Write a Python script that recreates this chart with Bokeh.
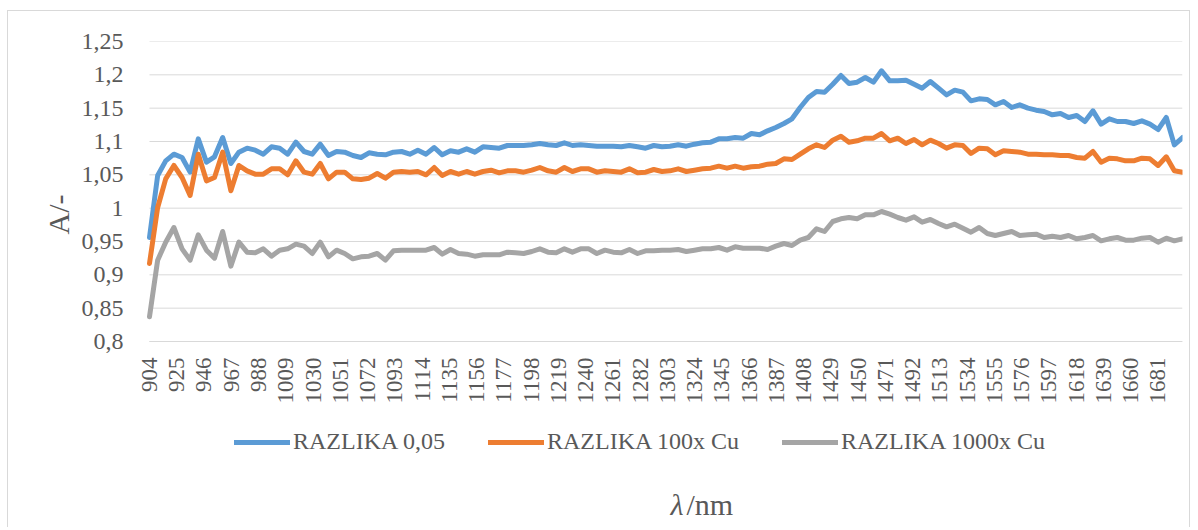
import math
from bokeh.plotting import figure
from bokeh.models import (Range1d, FixedTicker, Legend, LegendItem, Title, Label)
from bokeh.embed import file_html
from bokeh.resources import INLINE

wavelength = [
    904.0, 910.3, 916.5, 922.8, 929.1, 935.3, 941.6, 947.9, 954.1, 960.4,
    966.7, 972.9, 979.2, 985.5, 991.7, 998.0, 1004.3, 1010.5, 1016.8, 1023.1,
    1029.4, 1035.6, 1041.9, 1048.2, 1054.4, 1060.7, 1067.0, 1073.2, 1079.5, 1085.8,
    1092.0, 1098.3, 1104.6, 1110.8, 1117.1, 1123.4, 1129.6, 1135.9, 1142.2, 1148.4,
    1154.7, 1161.0, 1167.2, 1173.5, 1179.8, 1186.0, 1192.3, 1198.6, 1204.8, 1211.1,
    1217.4, 1223.7, 1229.9, 1236.2, 1242.5, 1248.7, 1255.0, 1261.3, 1267.5, 1273.8,
    1280.1, 1286.3, 1292.6, 1298.9, 1305.1, 1311.4, 1317.7, 1323.9, 1330.2, 1336.5,
    1342.7, 1349.0, 1355.3, 1361.5, 1367.8, 1374.1, 1380.3, 1386.6, 1392.9, 1399.1,
    1405.4, 1411.7, 1418.0, 1424.2, 1430.5, 1436.8, 1443.0, 1449.3, 1455.6, 1461.8,
    1468.1, 1474.4, 1480.6, 1486.9, 1493.2, 1499.4, 1505.7, 1512.0, 1518.2, 1524.5,
    1530.8, 1537.0, 1543.3, 1549.6, 1555.8, 1562.1, 1568.4, 1574.6, 1580.9, 1587.2,
    1593.4, 1599.7, 1606.0, 1612.2, 1618.5, 1624.8, 1631.0, 1637.3, 1643.6, 1649.8,
    1656.1, 1662.4, 1668.7, 1674.9, 1681.2, 1687.5, 1693.7, 1700.0,
]

razlika_005 = [
    0.956, 1.049, 1.071, 1.081, 1.076, 1.054, 1.104, 1.069, 1.077, 1.106, 1.067, 1.084, 1.090, 1.087, 1.081, 1.092,
    1.090, 1.081, 1.099, 1.085, 1.081, 1.096, 1.079, 1.085, 1.084, 1.079, 1.076, 1.083, 1.081, 1.080, 1.084, 1.085,
    1.081, 1.087, 1.081, 1.091, 1.080, 1.086, 1.084, 1.089, 1.084, 1.092, 1.091, 1.090, 1.094, 1.094, 1.094, 1.095,
    1.097, 1.095, 1.094, 1.098, 1.094, 1.095, 1.094, 1.093, 1.093, 1.093, 1.092, 1.094, 1.092, 1.090, 1.094, 1.092,
    1.093, 1.095, 1.093, 1.096, 1.098, 1.099, 1.104, 1.104, 1.106, 1.105, 1.112, 1.110, 1.116, 1.121, 1.127, 1.134,
    1.151, 1.166, 1.175, 1.174, 1.186, 1.199, 1.187, 1.189, 1.196, 1.189, 1.206, 1.191, 1.191, 1.192, 1.186, 1.180,
    1.190, 1.180, 1.170, 1.177, 1.174, 1.161, 1.164, 1.163, 1.155, 1.160, 1.151, 1.155, 1.150, 1.147, 1.145, 1.140,
    1.142, 1.136, 1.139, 1.130, 1.146, 1.126, 1.134, 1.130, 1.130, 1.127, 1.131, 1.126, 1.118, 1.136, 1.095, 1.106,
]

razlika_100x_cu = [
    0.917, 1.001, 1.044, 1.064, 1.046, 1.019, 1.081, 1.041, 1.046, 1.084, 1.026, 1.064, 1.056, 1.051, 1.051, 1.059,
    1.059, 1.050, 1.071, 1.054, 1.051, 1.067, 1.044, 1.054, 1.054, 1.044, 1.043, 1.045, 1.052, 1.045, 1.054, 1.055,
    1.054, 1.055, 1.050, 1.061, 1.049, 1.055, 1.051, 1.055, 1.051, 1.055, 1.057, 1.053, 1.056, 1.056, 1.054, 1.057,
    1.061, 1.056, 1.054, 1.061, 1.055, 1.059, 1.059, 1.054, 1.056, 1.055, 1.054, 1.059, 1.053, 1.054, 1.058, 1.055,
    1.056, 1.059, 1.055, 1.057, 1.059, 1.060, 1.063, 1.060, 1.063, 1.060, 1.062, 1.063, 1.066, 1.067, 1.074, 1.073,
    1.081, 1.089, 1.095, 1.091, 1.102, 1.108, 1.099, 1.101, 1.105, 1.105, 1.112, 1.101, 1.105, 1.097, 1.103, 1.095,
    1.102, 1.097, 1.090, 1.095, 1.094, 1.082, 1.090, 1.089, 1.080, 1.086, 1.085, 1.084, 1.081, 1.081, 1.080, 1.080,
    1.079, 1.079, 1.076, 1.075, 1.085, 1.069, 1.075, 1.074, 1.071, 1.071, 1.075, 1.074, 1.064, 1.077, 1.056, 1.054,
]

razlika_1000x_cu = [
    0.837, 0.922, 0.949, 0.971, 0.939, 0.922, 0.960, 0.937, 0.925, 0.965, 0.913, 0.949, 0.934, 0.933, 0.939, 0.928,
    0.937, 0.939, 0.946, 0.943, 0.932, 0.949, 0.927, 0.937, 0.932, 0.924, 0.927, 0.928, 0.932, 0.922, 0.936, 0.937,
    0.937, 0.937, 0.937, 0.941, 0.931, 0.938, 0.932, 0.931, 0.928, 0.930, 0.930, 0.930, 0.934, 0.933, 0.932, 0.935,
    0.939, 0.934, 0.933, 0.939, 0.934, 0.939, 0.939, 0.932, 0.937, 0.934, 0.933, 0.938, 0.932, 0.936, 0.936, 0.937,
    0.937, 0.938, 0.935, 0.937, 0.939, 0.939, 0.941, 0.937, 0.942, 0.940, 0.940, 0.940, 0.938, 0.943, 0.947, 0.944,
    0.952, 0.956, 0.969, 0.965, 0.980, 0.984, 0.986, 0.984, 0.990, 0.990, 0.995, 0.991, 0.986, 0.982, 0.987, 0.979,
    0.983, 0.977, 0.972, 0.976, 0.970, 0.964, 0.971, 0.962, 0.959, 0.962, 0.965, 0.959, 0.960, 0.961, 0.956, 0.958,
    0.956, 0.959, 0.954, 0.956, 0.959, 0.951, 0.954, 0.956, 0.952, 0.952, 0.955, 0.956, 0.949, 0.955, 0.951, 0.954,
]

series_names = ["RAZLIKA 0,05", "RAZLIKA 100x Cu", "RAZLIKA 1000x Cu"]
series_colors = ["#5B9BD5", "#ED7D31", "#A5A5A5"]

x_ticks = [904, 925, 946, 967, 988, 1009, 1030, 1051, 1072, 1093, 1114, 1135, 1156,
           1177, 1198, 1219, 1240, 1261, 1282, 1303, 1324, 1345, 1366, 1387, 1408,
           1429, 1450, 1471, 1492, 1513, 1534, 1555, 1576, 1597, 1618, 1639, 1660, 1681]
y_ticks = [0.8, 0.85, 0.9, 0.95, 1.0, 1.05, 1.1, 1.15, 1.2, 1.25]
y_tick_labels = ["0,8", "0,85", "0,9", "0,95", "1", "1,05", "1,1", "1,15", "1,2", "1,25"]
x_title_sym = "λ"
x_title_unit = "/nm"
y_title = "A/-"

FONT = "Liberation Serif"
TXT = "#595959"
GRID = "#D9D9D9"

x_lo, x_hi = wavelength[0], wavelength[-1]

# frame reaches down to the figure bottom (x axis pinned at y = 0.8) and a bit
# left of the first wavelength so the first tick label is not clipped
p = figure(width=1183, height=517, output_backend="svg", toolbar_location=None,
           x_range=Range1d(888.6, x_hi), y_range=Range1d(0.5195, 1.25),
           min_border_left=121, min_border_right=9, min_border_top=30,
           min_border_bottom=0)
p.margin = (10, 0, 0, 7)
p.styles = {"border-top": "1px solid #D9D9D9", "border-left": "1px solid #D9D9D9",
            "border-right": "1px solid #D9D9D9"}
p.outline_line_color = None
p.background_fill_color = "white"
p.border_fill_color = "white"

p.xgrid.grid_line_color = None
p.ygrid.grid_line_color = None
# horizontal gridlines limited to the data extent
p.segment(x0=[x_lo] * len(y_ticks), y0=y_ticks, x1=[x_hi] * len(y_ticks), y1=y_ticks,
          line_color=GRID, line_width=1, level="underlay")

p.xaxis.fixed_location = 0.8
p.xaxis.bounds = (x_lo, x_hi)
p.xaxis.ticker = FixedTicker(ticks=x_ticks)
p.xaxis.major_label_orientation = math.pi / 2
p.xaxis.major_label_text_font = FONT
p.xaxis.major_label_text_font_size = "23px"
p.xaxis.major_label_text_color = TXT
p.xaxis.major_tick_line_color = None
p.xaxis.minor_tick_line_color = None
p.xaxis.axis_line_color = GRID
p.xaxis.major_label_standoff = 10

p.yaxis.ticker = FixedTicker(ticks=y_ticks)
p.yaxis.major_label_overrides = {t: l for t, l in zip(y_ticks, y_tick_labels)}
p.yaxis.major_label_text_font = FONT
p.yaxis.major_label_text_font_size = "24px"
p.yaxis.major_label_text_color = TXT
p.yaxis.major_tick_line_color = None
p.yaxis.minor_tick_line_color = None
p.yaxis.axis_line_color = None
p.yaxis.major_label_standoff = 0

renderers = []
for ys, c in zip([razlika_005, razlika_100x_cu, razlika_1000x_cu], series_colors):
    r = p.line(wavelength, ys, line_color=c, line_width=5,
               line_join="round", line_cap="round")
    renderers.append(r)

legend = Legend(items=[LegendItem(label=n, renderers=[r]) for n, r in zip(series_names, renderers)],
                location=(105, 73), orientation="horizontal",
                label_text_font=FONT, label_text_font_size="24px",
                label_text_color=TXT, glyph_width=56, glyph_height=24,
                label_height=24, label_standoff=3, spacing=43,
                padding=0, margin=0, border_line_color=None,
                background_fill_alpha=0)
p.add_layout(legend)

p.add_layout(Label(x=541, y=24, x_units="screen", y_units="screen", text=x_title_sym,
                   text_align="left", text_baseline="alphabetic", text_font_style="italic",
                   text_font=FONT, text_font_size="30px", text_color=TXT))
p.add_layout(Label(x=557, y=24, x_units="screen", y_units="screen", text=x_title_unit,
                   text_align="left", text_baseline="alphabetic",
                   text_font=FONT, text_font_size="30px", text_color=TXT))

p.add_layout(Title(text=y_title, align="left", offset=294, standoff=8,
                   text_font=FONT, text_font_size="30px", text_font_style="normal",
                   text_color=TXT), "left")

open("out.html", "w").write(file_html(p, INLINE))
